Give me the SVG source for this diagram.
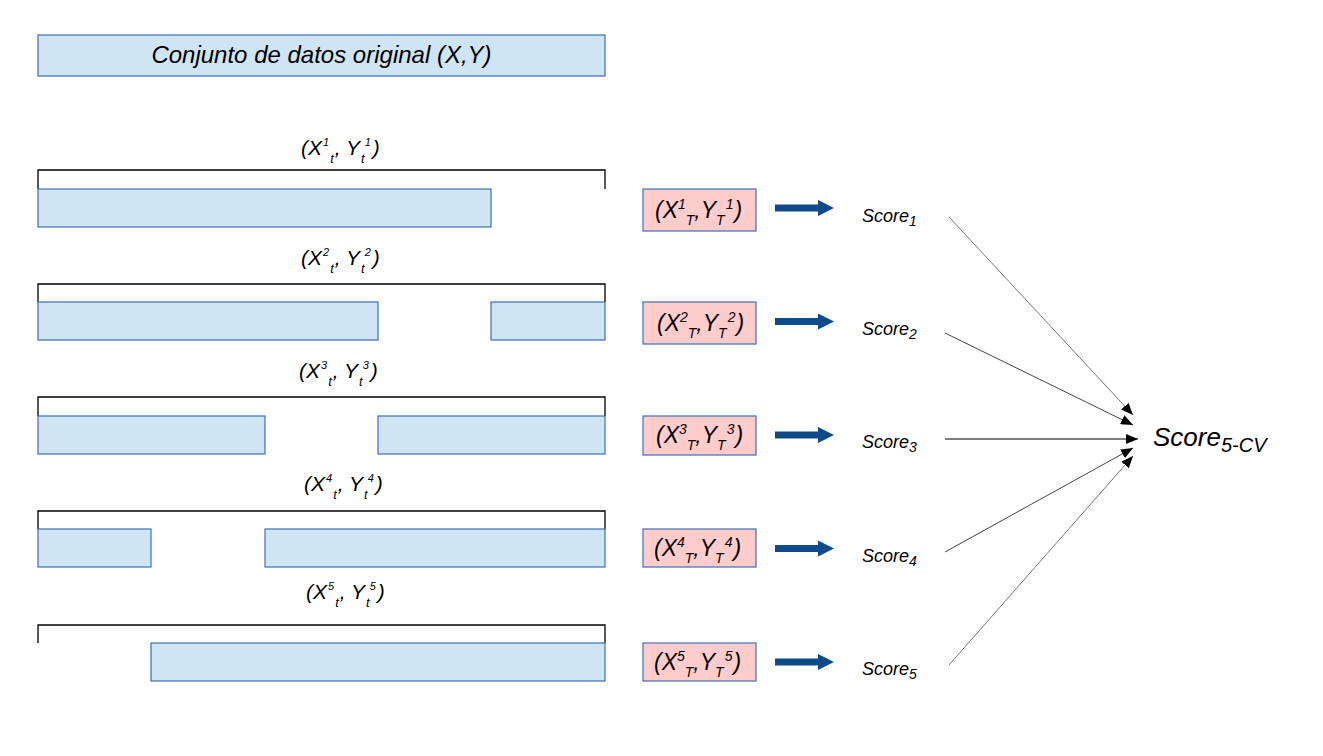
<svg xmlns="http://www.w3.org/2000/svg" width="1323" height="756" viewBox="0 0 1323 756">
<style>
.fold{fill:#cfe5f4;stroke:#3f6fb6;stroke-width:1.2}
.test{fill:#ffcccc;stroke:#3f6fb6;stroke-width:1.2}
.br{fill:none;stroke:#000;stroke-width:1.3}
.t{font-family:"Liberation Sans",Arial,sans-serif;font-style:italic;fill:#000}
.lab{font-size:21px}
.tl{font-size:23px}
.sc{font-size:18px}
.big{font-size:26px}
.s{font-size:11px}
.st{font-size:13px}
.s2{font-size:14px}
.conn{fill:none;stroke-width:1}
.barr{fill:#0f4a8a}
</style>
<defs>
<marker id="ah" viewBox="0 0 12 10" refX="12" refY="5" markerWidth="12" markerHeight="10" markerUnits="userSpaceOnUse" orient="auto">
<path d="M0,0 L12,5 L0,10 Z" fill="#000"/>
</marker>
</defs>
<rect width="1323" height="756" fill="#fff"/>

<g id="original">
<rect class="fold" x="38" y="35" width="567" height="41"/>
<text class="t" x="321.5" y="63" font-size="24" text-anchor="middle">Conjunto de datos original (X,Y)</text>
</g>

<g id="fold1">
<text class="t lab" x="301" y="155">(X<tspan class="s" dy="-9" dx="1">1</tspan><tspan class="st" dy="17" dx="1">t</tspan><tspan dy="-8" dx="1">, Y</tspan><tspan class="st" dy="8" dx="1">t</tspan><tspan class="s" dy="-17">1</tspan><tspan dy="9" dx="2">)</tspan></text>
<polyline class="br" points="38,189 38,170 605,170 605,189"/>
<rect class="fold" x="38" y="189" width="453" height="38"/>
</g>
<g id="fold2">
<text class="t lab" x="301" y="265">(X<tspan class="s" dy="-9" dx="1">2</tspan><tspan class="st" dy="17" dx="1">t</tspan><tspan dy="-8" dx="1">, Y</tspan><tspan class="st" dy="8" dx="1">t</tspan><tspan class="s" dy="-17">2</tspan><tspan dy="9" dx="2">)</tspan></text>
<polyline class="br" points="38,302 38,284 605,284 605,302"/>
<rect class="fold" x="38" y="302" width="340" height="38"/>
<rect class="fold" x="491" y="302" width="114" height="38"/>
</g>
<g id="fold3">
<text class="t lab" x="299" y="378">(X<tspan class="s" dy="-9" dx="1">3</tspan><tspan class="st" dy="17" dx="1">t</tspan><tspan dy="-8" dx="1">, Y</tspan><tspan class="st" dy="8" dx="1">t</tspan><tspan class="s" dy="-17">3</tspan><tspan dy="9" dx="2">)</tspan></text>
<polyline class="br" points="38,416 38,397 605,397 605,416"/>
<rect class="fold" x="38" y="416" width="227" height="38"/>
<rect class="fold" x="378" y="416" width="227" height="38"/>
</g>
<g id="fold4">
<text class="t lab" x="304" y="491">(X<tspan class="s" dy="-9" dx="1">4</tspan><tspan class="st" dy="17" dx="1">t</tspan><tspan dy="-8" dx="1">, Y</tspan><tspan class="st" dy="8" dx="1">t</tspan><tspan class="s" dy="-17">4</tspan><tspan dy="9" dx="2">)</tspan></text>
<polyline class="br" points="38,529 38,511 605,511 605,529"/>
<rect class="fold" x="38" y="529" width="113" height="38"/>
<rect class="fold" x="265" y="529" width="340" height="38"/>
</g>
<g id="fold5">
<text class="t lab" x="306" y="599">(X<tspan class="s" dy="-9" dx="1">5</tspan><tspan class="st" dy="17" dx="1">t</tspan><tspan dy="-8" dx="1">, Y</tspan><tspan class="st" dy="8" dx="1">t</tspan><tspan class="s" dy="-17">5</tspan><tspan dy="9" dx="2">)</tspan></text>
<polyline class="br" points="38,643 38,625 605,625 605,643"/>
<rect class="fold" x="151" y="643" width="454" height="38"/>
</g>

<g id="test1">
<rect class="test" x="643" y="189" width="113" height="42"/>
<text class="t tl" x="655" y="218">(X<tspan class="s2" dy="-9">1</tspan><tspan class="s2" dy="16">T</tspan><tspan dy="-7">,Y</tspan><tspan class="s2" dy="7">T</tspan><tspan class="s2" dy="-16" dx="1">1</tspan><tspan dy="9" dx="1">)</tspan></text>
</g>
<g id="test2">
<rect class="test" x="643" y="302" width="113" height="42"/>
<text class="t tl" x="657" y="331">(X<tspan class="s2" dy="-9">2</tspan><tspan class="s2" dy="16">T</tspan><tspan dy="-7">,Y</tspan><tspan class="s2" dy="7">T</tspan><tspan class="s2" dy="-16" dx="1">2</tspan><tspan dy="9" dx="1">)</tspan></text>
</g>
<g id="test3">
<rect class="test" x="643" y="416" width="113" height="39"/>
<text class="t tl" x="656" y="443">(X<tspan class="s2" dy="-9">3</tspan><tspan class="s2" dy="16">T</tspan><tspan dy="-7">,Y</tspan><tspan class="s2" dy="7">T</tspan><tspan class="s2" dy="-16" dx="1">3</tspan><tspan dy="9" dx="1">)</tspan></text>
</g>
<g id="test4">
<rect class="test" x="643" y="529" width="113" height="38"/>
<text class="t tl" x="654" y="556">(X<tspan class="s2" dy="-9">4</tspan><tspan class="s2" dy="16">T</tspan><tspan dy="-7">,Y</tspan><tspan class="s2" dy="7">T</tspan><tspan class="s2" dy="-16" dx="1">4</tspan><tspan dy="9" dx="1">)</tspan></text>
</g>
<g id="test5">
<rect class="test" x="643" y="643" width="113" height="38"/>
<text class="t tl" x="654" y="670">(X<tspan class="s2" dy="-9">5</tspan><tspan class="s2" dy="16">T</tspan><tspan dy="-7">,Y</tspan><tspan class="s2" dy="7">T</tspan><tspan class="s2" dy="-16" dx="1">5</tspan><tspan dy="9" dx="1">)</tspan></text>
</g>

<g id="score1"><text class="t sc" x="862" y="222">Score<tspan class="s2" dy="4">1</tspan></text></g>
<g id="score2"><text class="t sc" x="862" y="335">Score<tspan class="s2" dy="4">2</tspan></text></g>
<g id="score3"><text class="t sc" x="862" y="448">Score<tspan class="s2" dy="4">3</tspan></text></g>
<g id="score4"><text class="t sc" x="862" y="562">Score<tspan class="s2" dy="4">4</tspan></text></g>
<g id="score5"><text class="t sc" x="862" y="675">Score<tspan class="s2" dy="4">5</tspan></text></g>
<g id="scorecv"><text class="t big" x="1153" y="446">Score<tspan font-size="20" dy="6">5-CV</tspan></text></g>

<g id="connectors">
<path class="barr" d="M775,204.5 H818 V200 L834,208 L818,216 V211.5 H775 Z"/>
<path class="barr" d="M775,318 H818 V313.5 L834,321.5 L818,329.5 V325 H775 Z"/>
<path class="barr" d="M775,431.5 H818 V427 L834,435 L818,443 V438.5 H775 Z"/>
<path class="barr" d="M775,545 H818 V540.5 L834,548.5 L818,556.5 V552 H775 Z"/>
<path class="barr" d="M775,658.5 H818 V654 L834,662 L818,670 V665.5 H775 Z"/>
<line class="conn" x1="949" y1="217" x2="1133" y2="415" stroke="#777" marker-end="url(#ah)"/>
<line class="conn" x1="945" y1="333" x2="1133" y2="425" stroke="#444" marker-end="url(#ah)"/>
<line class="conn" x1="945" y1="439" x2="1138" y2="439" stroke="#000" stroke-width="1.3" marker-end="url(#ah)"/>
<line class="conn" x1="945" y1="552" x2="1133" y2="448" stroke="#444" marker-end="url(#ah)"/>
<line class="conn" x1="949" y1="665" x2="1133" y2="456" stroke="#777" marker-end="url(#ah)"/>
</g>
</svg>
